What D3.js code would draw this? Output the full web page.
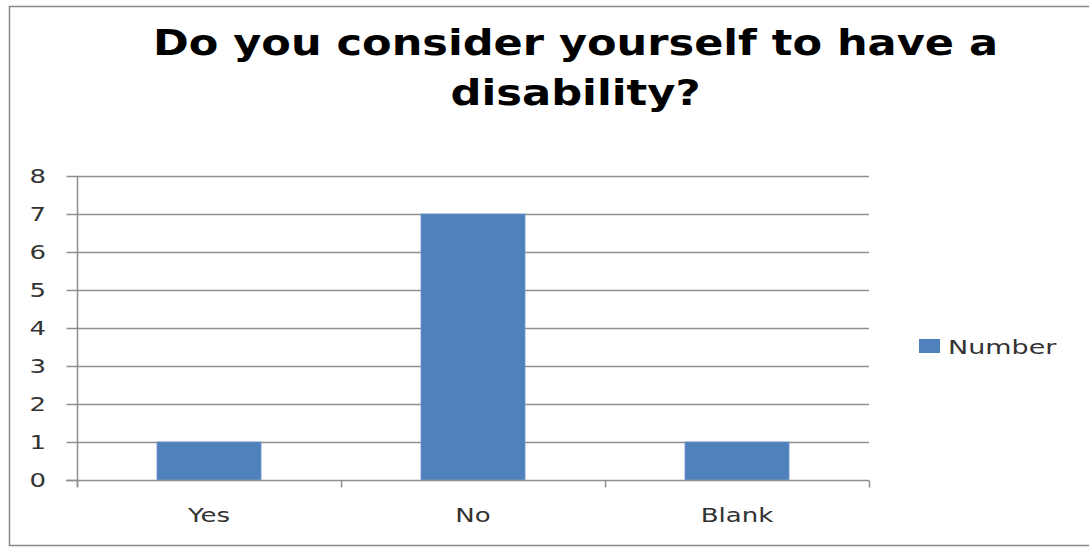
<!DOCTYPE html>
<html>
<head>
<meta charset="utf-8">
<script src="https://cdn.jsdelivr.net/npm/d3@7"></script>
<style>
  html, body { margin: 0; padding: 0; background: #fff; }
  svg { display: block; }
</style>
</head>
<body>
<svg id="chart" width="1089" height="547"></svg>
<script>
const titleLines = ["Do you consider yourself to have a", "disability?"];
const categories = ["Yes", "No", "Blank"];
const seriesName = "Number";
const values = [1, 7, 1];
const yTicks = [0, 1, 2, 3, 4, 5, 6, 7, 8];

const W = 1089, H = 547;
const plot = { left: 77, right: 869, top: 176, bottom: 480 };
const stretch = 1.37;
const smallFont = "DejaVu Sans, Verdana, sans-serif";
const gridColor = "#8f8f8f";
const barColor = "#4f81bd";

const svg = d3.select("#chart");

// outer chart border
svg.append("rect")
  .attr("x", 9.5).attr("y", 6.5)
  .attr("width", 1100).attr("height", 539)
  .attr("fill", "#fff").attr("stroke", "#8a8a8a").attr("stroke-width", 1.5);

// title
const titleSpecs = [
  { y: 55, len: 845 },
  { y: 105, len: 250 }
];
svg.append("g").selectAll("text").data(titleLines).join("text")
  .attr("x", 575.5)
  .attr("y", (d, i) => titleSpecs[i].y)
  .attr("text-anchor", "middle")
  .attr("font-family", "DejaVu Sans, Verdana, sans-serif")
  .attr("font-weight", "bold")
  .attr("font-size", 36)
  .attr("fill", "#000")
  .attr("textLength", (d, i) => titleSpecs[i].len)
  .attr("lengthAdjust", "spacingAndGlyphs")
  .text(d => d);

const y = d3.scaleLinear().domain([0, 8]).range([plot.bottom, plot.top]);
const x = d3.scaleBand().domain(categories).range([plot.left, plot.right]).padding(0);
const barW = x.bandwidth() * 0.394;

// gridlines
svg.append("g").selectAll("line").data(yTicks.filter(t => t > 0)).join("line")
  .attr("x1", plot.left).attr("x2", plot.right)
  .attr("y1", d => Math.round(y(d)) + 0.5).attr("y2", d => Math.round(y(d)) + 0.5)
  .attr("stroke", gridColor).attr("stroke-width", 1.5);

// bars
svg.append("g").selectAll("rect").data(values).join("rect")
  .attr("x", (d, i) => x(categories[i]) + (x.bandwidth() - barW) / 2)
  .attr("y", d => y(d))
  .attr("width", barW)
  .attr("height", d => y(0) - y(d))
  .attr("fill", barColor)
  .attr("stroke", "#6f98cc").attr("stroke-width", 0.8);

// y axis
const yAxis = svg.append("g")
  .attr("transform", `translate(${plot.left + 0.5},0)`)
  .call(d3.axisLeft(y).tickValues(yTicks).tickFormat(d3.format("d")).tickSize(11).tickPadding(12));
yAxis.select(".domain").attr("stroke", gridColor).attr("stroke-width", 1.5)
  .attr("d", `M0,${plot.top}V${plot.bottom + 7}`);
yAxis.selectAll(".tick line").attr("stroke", gridColor).attr("stroke-width", 1.5);
yAxis.selectAll(".tick text")
  .attr("font-family", smallFont).attr("font-size", 19).attr("fill", "#333")
  .attr("transform", `scale(${stretch},1)`);

// x axis (labels at band centres, tick marks at band edges)
const xAxis = svg.append("g")
  .attr("transform", `translate(0,${plot.bottom + 0.5})`)
  .call(d3.axisBottom(x).tickSize(0).tickPadding(28));
xAxis.select(".domain").attr("stroke", gridColor).attr("stroke-width", 1.5)
  .attr("d", `M${plot.left - 11},0H${plot.right}`);
xAxis.selectAll(".tick text")
  .attr("font-family", smallFont).attr("font-size", 19).attr("fill", "#333")
  .attr("transform", `scale(${stretch},1)`);
const edges = categories.map(c => x(c)).concat([x.range()[1]]);
xAxis.append("g").selectAll("line").data(edges).join("line")
  .attr("x1", d => Math.round(d) + 0.5).attr("x2", d => Math.round(d) + 0.5)
  .attr("y1", 0).attr("y2", 7)
  .attr("stroke", gridColor).attr("stroke-width", 1.5);

// legend
const lg = svg.append("g").attr("transform", "translate(919,339)");
lg.append("rect").attr("x", 0).attr("y", 0).attr("width", 21).attr("height", 14).attr("fill", barColor);
lg.append("text")
  .attr("transform", `translate(29,15) scale(1.42,1)`)
  .attr("font-family", smallFont).attr("font-size", 19).attr("fill", "#333")
  .text(seriesName);
</script>
</body>
</html>
